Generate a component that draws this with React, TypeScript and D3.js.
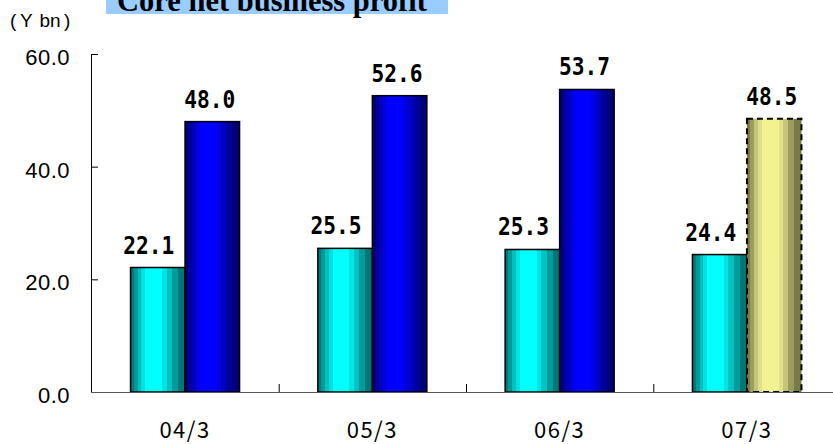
import React from "react";
import * as d3 from "d3";

const categories = ["04/3", "05/3", "06/3", "07/3"];
const seriesA = [22.1, 25.5, 25.3, 24.4];
const seriesB = [48.0, 52.6, 53.7, 48.5];
const yTicks = [0, 20, 40, 60];
const forecastIndex = 3;

const W = 833;
const H = 444;

type Band = [number, string];

const cyanBands: Band[] = [
  [0.0, "#007a7a"],
  [0.06, "#009a9a"],
  [0.13, "#00c0c0"],
  [0.2, "#00e0e0"],
  [0.27, "#00ffff"],
  [0.58, "#00e4e4"],
  [0.66, "#00c2c2"],
  [0.76, "#009c9c"],
  [0.87, "#007878"],
];
const blueBands: Band[] = [
  [0.0, "#000078"],
  [0.06, "#00009a"],
  [0.13, "#0000c0"],
  [0.2, "#0000e0"],
  [0.27, "#0000ff"],
  [0.58, "#0000e4"],
  [0.66, "#0000c2"],
  [0.76, "#00009c"],
  [0.87, "#000078"],
];
const yellowBands: Band[] = [
  [0.0, "#7a7a40"],
  [0.06, "#9c9c5c"],
  [0.13, "#c4c47c"],
  [0.2, "#e0e08c"],
  [0.27, "#f2f290"],
  [0.58, "#e2e288"],
  [0.66, "#c4c47a"],
  [0.76, "#9c9c5e"],
  [0.87, "#7a7a44"],
];

function Stepped({ id, bands }: { id: string; bands: Band[] }) {
  const stops: React.ReactElement[] = [];
  bands.forEach(([off, col], i) => {
    const end = i + 1 < bands.length ? bands[i + 1][0] : 1;
    stops.push(<stop key={`${i}a`} offset={off} stopColor={col} />);
    stops.push(<stop key={`${i}b`} offset={end} stopColor={col} />);
  });
  return (
    <linearGradient id={id} x1="0" y1="0" x2="1" y2="0">
      {stops}
    </linearGradient>
  );
}

export default function App() {
  const x = d3
    .scaleBand<string>()
    .domain(categories)
    .range([91.4, 840.6])
    .padding(0);
  const bw = x.bandwidth();
  const inner = d3
    .scaleBand<string>()
    .domain(["a", "b"])
    .range([bw * 0.209, bw * 0.791])
    .padding(0);
  const y = d3.scaleLinear().domain([0, 60]).range([392, 54]);

  const labelFont = "'DejaVu Sans Mono', monospace";
  const axisFont = "'Liberation Sans', Arial, sans-serif";
  const jpFont = "'Noto Sans CJK JP', sans-serif";

  const valueLabel = (v: number, cx: number) => (
    <text
      x={cx}
      y={y(v) - 14}
      textAnchor="middle"
      fontFamily={labelFont}
      fontWeight="bold"
      fontSize={24}
      textLength={51}
      lengthAdjust="spacingAndGlyphs"
      fill="#000"
    >
      {v.toFixed(1)}
    </text>
  );

  return (
    <svg
      width={W}
      height={H}
      style={{ position: "absolute", left: 0, top: 0, background: "#fff" }}
    >
      <defs>
        <Stepped id="gA" bands={cyanBands} />
        <Stepped id="gB" bands={blueBands} />
        <Stepped id="gC" bands={yellowBands} />
      </defs>

      {/* title banner */}
      <rect x={106} y={0} width={342} height={14} fill="#99ccff" />
      <text
        x={117}
        y={10.5}
        fontFamily="'Liberation Serif', 'Times New Roman', serif"
        fontWeight="bold"
        fontSize={30.5}
        fill="#000"
      >
        Core net business profit
      </text>

      {/* unit */}
      <text y={27} fontFamily={axisFont} fontSize={19} fill="#000">
        <tspan x={10}>(</tspan>
        <tspan x={20}>Y</tspan>
        <tspan x={39.5}>bn</tspan>
        <tspan x={64}>)</tspan>
      </text>

      {/* y axis */}
      <line x1={91.5} x2={91.5} y1={y(60)} y2={y(0)} stroke="#000" strokeWidth={1} />
      {yTicks.map((t) => (
        <g key={t}>
          <line x1={91.5} x2={98} y1={y(t) + 0.5} y2={y(t) + 0.5} stroke="#000" />
          <text
            x={70}
            y={y(t) + 11}
            textAnchor="end"
            fontFamily={axisFont}
            fontSize={22}
            letterSpacing={0.5}
            fill="#000"
          >
            {t.toFixed(1)}
          </text>
        </g>
      ))}

      {/* bars */}
      {categories.map((c, i) => {
        const x0 = x(c)!;
        const xa = x0 + inner("a")!;
        const xb = x0 + inner("b")!;
        const w = inner.bandwidth();
        const forecast = i === forecastIndex;
        return (
          <g key={c}>
            <rect
              x={xa}
              y={y(seriesA[i])}
              width={w}
              height={y(0) - y(seriesA[i])}
              fill="url(#gA)"
              stroke="#000"
              strokeWidth={1.5}
            />
            <rect
              x={xb}
              y={y(seriesB[i])}
              width={w}
              height={y(0) - y(seriesB[i])}
              fill={forecast ? "url(#gC)" : "url(#gB)"}
              stroke="#000"
              strokeWidth={forecast ? 2 : 1.5}
              strokeDasharray={forecast ? "6 4" : undefined}
            />
            {valueLabel(seriesA[i], xa + w / 2 - 9)}
            {valueLabel(seriesB[i], xb + w / 2 - 2.5)}
          </g>
        );
      })}

      {/* x axis */}
      <line x1={91.5} x2={W} y1={392.5} y2={392.5} stroke="#555" strokeWidth={1.2} />
      {categories.slice(1).map((c) => (
        <line
          key={c}
          x1={x(c)! + 0.5}
          x2={x(c)! + 0.5}
          y1={384}
          y2={392}
          stroke="#000"
        />
      ))}
      {categories.map((c) => (
        <text
          key={c}
          x={x(c)! + bw / 2}
          y={438}
          textAnchor="middle"
          fontFamily={jpFont}
          fontSize={22}
          letterSpacing={1.5}
          fill="#000"
        >
          {c}
        </text>
      ))}
    </svg>
  );
}
